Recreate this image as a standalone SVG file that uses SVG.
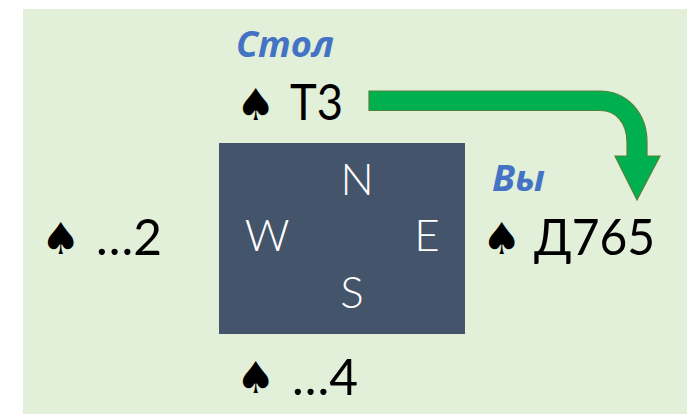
<svg xmlns="http://www.w3.org/2000/svg" width="687" height="414" viewBox="0 0 687 414">
<style>
.c{font-family:"Lato","Open Sans",sans-serif;font-weight:400;fill:#000;font-size:50px}
.d{font-family:"DejaVu Sans",sans-serif;fill:#000;font-size:44px}
.w{font-family:"Lato","Open Sans",sans-serif;font-weight:300;fill:#fff;font-size:44px;text-anchor:middle}
.b{font-family:"Open Sans","Noto Sans",sans-serif;fill:#4472c4;font-size:36px;font-weight:700;font-style:italic}
</style>
<rect width="687" height="414" fill="#fff"/>
<rect x="23" y="9" width="664" height="405" fill="#e2efd9"/>
<g id="table"><rect x="219" y="143" width="246" height="191" fill="#44546a"/>
<text class="w" x="357" y="195">N</text><text class="w" x="267" y="251">W</text><text class="w" x="427" y="251">E</text><text class="w" x="352" y="308">S</text></g>
<g id="north"><text class="b" x="236" y="57" textLength="98" lengthAdjust="spacingAndGlyphs">Стол</text><text class="d" x="236" y="120">♠</text><text class="c" x="290" y="120" textLength="53" lengthAdjust="spacingAndGlyphs">Т3</text></g>
<g id="east"><text class="b" x="492" y="191" textLength="53" lengthAdjust="spacingAndGlyphs">Вы</text><text class="d" x="482" y="254">♠</text><text class="c" x="534" y="255" textLength="121" lengthAdjust="spacingAndGlyphs">Д765</text></g>
<g id="west"><text class="d" x="41" y="254">♠</text><text class="c" x="96" y="255" textLength="66" lengthAdjust="spacingAndGlyphs">…2</text></g>
<g id="south"><text class="d" x="236" y="393">♠</text><text class="c" x="292" y="395" textLength="66" lengthAdjust="spacingAndGlyphs">…4</text></g>
<g id="connectors"><path d="M369 91H600C627 91 647 113 647 142V156H660L637 200L615 156H627V142C627 123 616 110.500 600 110.500H369Z" fill="#00b050" stroke="#548235" stroke-width="1.200"/></g>
</svg>
